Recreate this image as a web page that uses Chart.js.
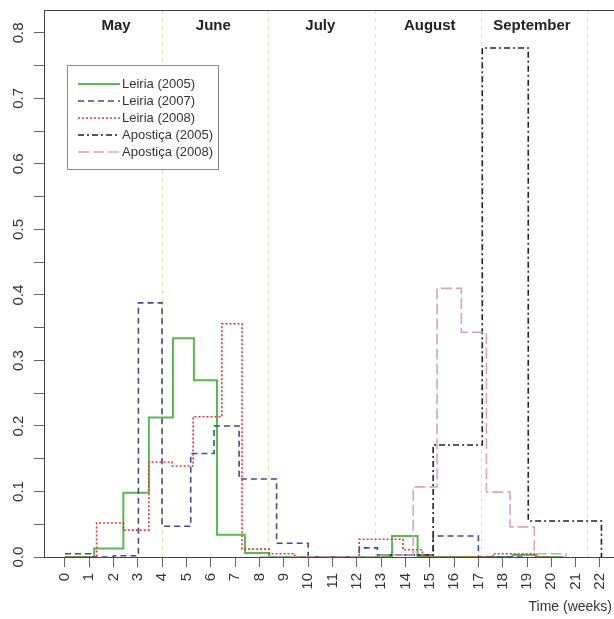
<!doctype html>
<html lang="">
<head>
<meta charset="utf-8">
<title></title>
<script src="https://cdn.jsdelivr.net/npm/chart.js@4"></script>
<style>
  body { margin: 0; background: #fff; }
</style>
</head>
<body>
<canvas id="weeksChart" width="614" height="619"></canvas>
<script>
var weeks = [0, 1, 2, 3, 4, 5, 6, 7, 8, 9, 10, 11, 12, 13, 14, 15, 16, 17, 18, 19, 20, 21, 22];
var yTickMarks = [0, 0.05, 0.1, 0.15, 0.2, 0.25, 0.3, 0.35, 0.4, 0.45, 0.5, 0.55, 0.6, 0.65, 0.7, 0.75, 0.8];
var yLabels = ['0.0', '0.1', '0.2', '0.3', '0.4', '0.5', '0.6', '0.7', '0.8'];
var months = ['May', 'June', 'July', 'August', 'September'];
var monthCentres = [2.1, 6.1, 10.5, 15.0, 19.2];
var monthBounds = [4.0, 8.35, 12.75, 17.1, 21.45];

var leiria2005X = [0, 1.2, 2.4, 3.45, 4.44, 5.3, 6.25, 7.4, 8.4, 13.45, 14.5, 18.4, 19.4, 20.5];
var leiria2005Y = [0, 0.013, 0.098, 0.213, 0.334, 0.27, 0.034, 0.006, 0, 0.032, 0, 0.003, 0, 0];

var leiria2007X = [0, 1.05, 2.0, 3.02, 3.99, 5.17, 6.13, 7.16, 8.7, 10.0, 12.1, 12.85, 15.14, 17.0, 19.0];
var leiria2007Y = [0.005, 0, 0.002, 0.388, 0.047, 0.158, 0.2, 0.119, 0.021, 0, 0.014, 0.003, 0.032, 0, 0];

var leiria2008X = [0, 1.3, 2.4, 3.45, 4.4, 5.27, 6.45, 7.28, 8.4, 9.45, 12.1, 13.9, 14.7, 17.6, 19.3, 20.0];
var leiria2008Y = [0, 0.052, 0.041, 0.145, 0.139, 0.214, 0.356, 0.012, 0.005, 0, 0.027, 0.011, 0, 0.005, 0, 0];

var apostica2005X = [13.0, 15.14, 17.16, 19.05, 22.06];
var apostica2005Y = [0.003, 0.171, 0.777, 0.055, 0];

var apostica2008X = [8.0, 13.0, 14.32, 15.3, 16.3, 17.33, 18.3, 19.3, 20.6];
var apostica2008Y = [0, 0.003, 0.107, 0.41, 0.343, 0.099, 0.046, 0.005, 0];

var FONT = '"Liberation Sans", Arial, sans-serif';

// y value of each segment starts at its x, so the step is drawn before the next point
function pts(xs, ys) {
	var out = [];
	for (var i = 0; i < xs.length; i++) {
		out.push({x: xs[i], y: ys[i]});
	}
	return out;
}

function series(label, xs, ys, color, dash, width, order) {
	return {
		label: label,
		data: pts(xs, ys),
		borderColor: color,
		borderDash: dash,
		borderWidth: width,
		stepped: 'before',
		pointRadius: 0,
		fill: false,
		order: order
	};
}

var extras = {
	id: 'extras',
	beforeDatasetsDraw: function(chart) {
		var ctx = chart.ctx, area = chart.chartArea, xs = chart.scales.x;
		ctx.save();
		ctx.strokeStyle = '#e4e8a6';
		ctx.lineWidth = 1;
		ctx.setLineDash([4, 4]);
		for (var i = 0; i < monthBounds.length; i++) {
			var px = Math.round(xs.getPixelForValue(monthBounds[i])) + 0.5;
			ctx.beginPath();
			ctx.moveTo(px, area.top);
			ctx.lineTo(px, area.bottom);
			ctx.stroke();
		}
		ctx.restore();
	},
	afterDraw: function(chart) {
		var ctx = chart.ctx, area = chart.chartArea;
		var xs = chart.scales.x, ys = chart.scales.y;
		ctx.save();
		// top border
		ctx.strokeStyle = '#444';
		ctx.lineWidth = 1;
		ctx.beginPath();
		ctx.moveTo(area.left, area.top + 0.5);
		ctx.lineTo(area.right, area.top + 0.5);
		ctx.stroke();

		// rotated y labels
		ctx.fillStyle = '#333';
		ctx.font = '15px ' + FONT;
		ctx.textAlign = 'center';
		ctx.textBaseline = 'middle';
		for (var i = 0; i < yLabels.length; i++) {
			var py = ys.getPixelForValue(parseFloat(yLabels[i]));
			ctx.save();
			ctx.translate(19, py);
			ctx.rotate(-Math.PI / 2);
			ctx.fillText(yLabels[i], 0, 0);
			ctx.restore();
		}

		// month names
		ctx.font = 'bold 15px ' + FONT;
		ctx.fillStyle = '#222';
		for (var m = 0; m < months.length; m++) {
			ctx.fillText(months[m], xs.getPixelForValue(monthCentres[m]), area.top + 16);
		}

		// x title
		ctx.font = '14px ' + FONT;
		ctx.fillStyle = '#333';
		ctx.textAlign = 'right';
		ctx.fillText('Time (weeks)', 612, 607);

		// legend
		var lx = 67, ly = 65, lw = 151, lh = 104;
		ctx.fillStyle = '#fff';
		ctx.fillRect(lx, ly, lw, lh);
		ctx.strokeStyle = '#888';
		ctx.strokeRect(lx + 0.5, ly + 0.5, lw, lh);
		ctx.font = '13px ' + FONT;
		ctx.textAlign = 'left';
		var sets = chart.data.datasets;
		for (var k = 0; k < sets.length; k++) {
			var ty = ly + 19 + k * 17;
			ctx.strokeStyle = sets[k].borderColor;
			ctx.lineWidth = sets[k].borderWidth;
			ctx.setLineDash(sets[k].borderDash);
			ctx.beginPath();
			ctx.moveTo(78, ty);
			ctx.lineTo(120, ty);
			ctx.stroke();
			ctx.setLineDash([]);
			ctx.fillStyle = '#333';
			ctx.fillText(sets[k].label, 122, ty);
		}
		ctx.restore();
	}
};

var ctx = document.getElementById('weeksChart').getContext('2d');
var chart = new Chart(ctx, {
	type: 'line',
	data: {
		datasets: [
			series('Leiria (2005)', leiria2005X, leiria2005Y, '#56bb50', [], 2, 5),
			series('Leiria (2007)', leiria2007X, leiria2007Y, '#3e4b8e', [6, 4], 1.6, 4),
			series('Leiria (2008)', leiria2008X, leiria2008Y, '#e8323a', [2, 2], 1.6, 3),
			series('Apostiça (2005)', apostica2005X, apostica2005Y, '#222222', [6, 3, 2, 3], 1.6, 2),
			series('Apostiça (2008)', apostica2008X, apostica2008Y, '#d6a2c8', [11, 4], 1.6, 1)
		]
	},
	options: {
		responsive: false,
		animation: false,
		layout: { padding: { top: 10, left: 0, right: 0, bottom: 0 } },
		plugins: { legend: { display: false }, tooltip: { enabled: false } },
		scales: {
			x: {
				type: 'linear',
				min: -0.863,
				max: 22.576,
				afterBuildTicks: function(scale) {
					scale.ticks = weeks.map(function(v) { return {value: v}; });
				},
				afterFit: function(scale) {
					scale.height = 62;
					scale.paddingLeft = 0;
					scale.paddingRight = 0;
				},
				grid: { display: true, drawOnChartArea: false, drawTicks: true, tickLength: 10, color: '#666' },
				border: { display: true, color: '#444', width: 1 },
				ticks: {
					autoSkip: false,
					maxRotation: 90,
					minRotation: 90,
					padding: 6,
					color: '#333',
					font: { family: FONT, size: 15 },
					callback: function(v) { return String(v); }
				}
			},
			y: {
				type: 'linear',
				min: 0,
				max: 0.835,
				afterBuildTicks: function(scale) {
					scale.ticks = yTickMarks.map(function(v) { return {value: v}; });
				},
				afterFit: function(scale) {
					scale.width = 44;
					scale.paddingTop = 0;
					scale.paddingBottom = 0;
				},
				grid: { display: true, drawOnChartArea: false, drawTicks: true, tickLength: 10, color: '#666' },
				border: { display: true, color: '#444', width: 1 },
				ticks: { display: false }
			}
		}
	},
	plugins: [extras]
});
</script>
</body>
</html>
